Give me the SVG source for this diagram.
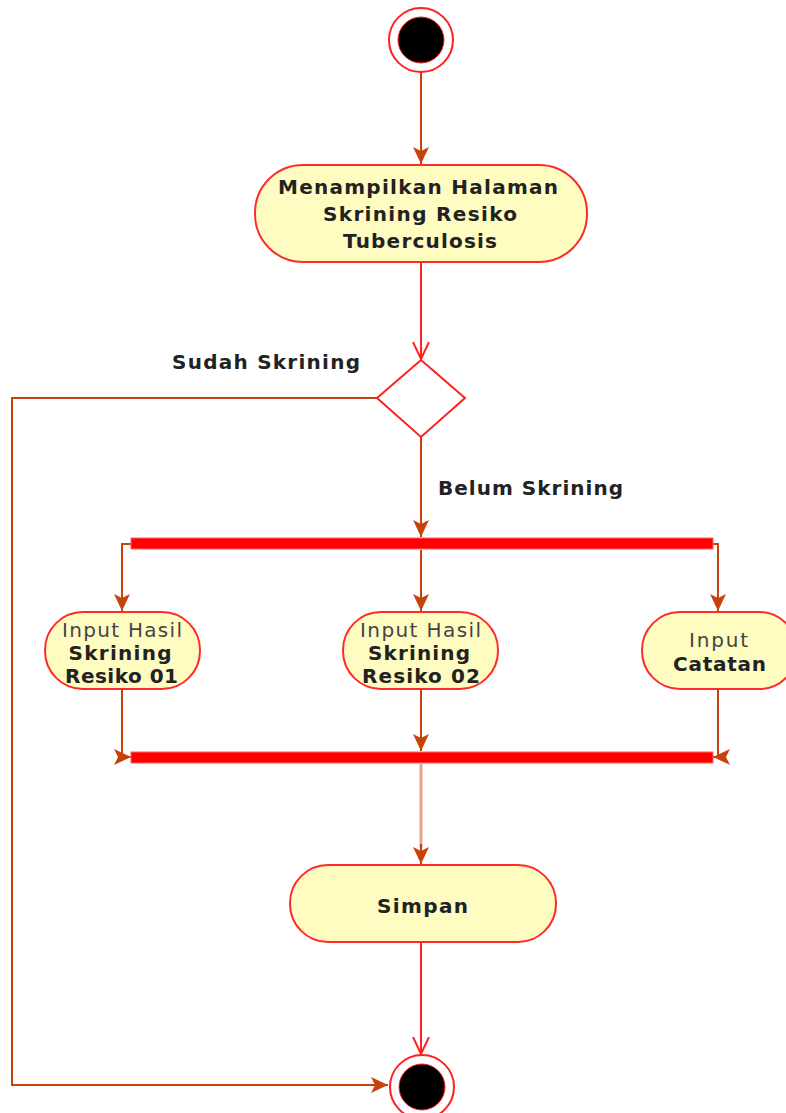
<svg xmlns="http://www.w3.org/2000/svg" width="786" height="1113" viewBox="0 0 786 1113">
  <style>
    .act { fill: #fffcc2; stroke: #ff2a2a; stroke-width: 2; }
    .bar { fill: #ff0000; stroke: #ff6060; stroke-width: 1; }
    .flow { fill: none; stroke: #c8420c; stroke-width: 2; }
    .flow-soft { fill: none; stroke: #e8a48a; stroke-width: 3; }
    .flow-red { fill: none; stroke: #ff2020; stroke-width: 2; }
    .t { font-family: "DejaVu Sans", Verdana, sans-serif; font-size: 20px; text-anchor: middle; }
    .b { font-weight: bold; fill: #222222; }
    .n { font-weight: normal; fill: #444444; }
  </style>
  <defs>
    <marker id="solid" viewBox="0 0 18 18" refX="17" refY="9" markerWidth="18" markerHeight="18" markerUnits="userSpaceOnUse" orient="auto">
      <path d="M0,1 L17,9 L0,17 L4,9 Z" fill="#c8420c"/>
    </marker>
    <marker id="open" viewBox="0 0 18 18" refX="17" refY="9" markerWidth="18" markerHeight="18" markerUnits="userSpaceOnUse" orient="auto">
      <path d="M0,1 L17,9 L0,17" fill="none" stroke="#ff2020" stroke-width="2"/>
    </marker>
  </defs>

  <g id="connectors">
    <path class="flow" d="M421,72 V164" marker-end="url(#solid)"/>
    <path class="flow-red" d="M421,263 V359" marker-end="url(#open)"/>
    <path class="flow" d="M377,398 H12 V1085 H388" marker-end="url(#solid)"/>
    <path class="flow" d="M421,437 V537" marker-end="url(#solid)"/>
    <path class="flow" d="M131,544 H122 V611" marker-end="url(#solid)"/>
    <path class="flow" d="M421,550 V611" marker-end="url(#solid)"/>
    <path class="flow" d="M713,544 H718 V611" marker-end="url(#solid)"/>
    <path class="flow" d="M122,690 V757 H131" marker-end="url(#solid)"/>
    <path class="flow" d="M421,690 V751" marker-end="url(#solid)"/>
    <path class="flow" d="M718,690 V757 H713" marker-end="url(#solid)"/>
    <path class="flow-soft" d="M421,764 V848"/>
    <path class="flow" d="M421,844 V864" marker-end="url(#solid)"/>
    <path class="flow-red" d="M421,943 V1054" marker-end="url(#open)"/>
    <text class="t b" x="266" y="369" textLength="188" lengthAdjust="spacing">Sudah Skrining</text>
    <text class="t b" x="530.5" y="495" textLength="185" lengthAdjust="spacing">Belum Skrining</text>
  </g>

  <g id="start">
    <circle cx="421" cy="40" r="32" fill="#ffffff" stroke="#ff2020" stroke-width="2"/>
    <circle cx="421" cy="40" r="23" fill="#000000" stroke="#ff2020" stroke-width="1"/>
  </g>

  <g id="show-page">
    <rect class="act" x="255" y="165" width="332" height="97" rx="48" ry="48"/>
    <text class="t b" x="418" y="194" textLength="280" lengthAdjust="spacing">Menampilkan Halaman</text>
    <text class="t b" x="420" y="221" textLength="194" lengthAdjust="spacing">Skrining Resiko</text>
    <text class="t b" x="420" y="248" textLength="154" lengthAdjust="spacing">Tuberculosis</text>
  </g>

  <g id="decision">
    <polygon points="421,360 465,398 421,437 377,398" fill="#ffffff" stroke="#ff2020" stroke-width="2"/>
  </g>

  <g id="fork">
    <rect class="bar" x="131" y="538" width="582" height="11"/>
  </g>

  <g id="input-risk-01">
    <rect class="act" x="45" y="612" width="155" height="77" rx="38" ry="38"/>
    <text class="t n" x="122" y="637" textLength="120" lengthAdjust="spacing">Input Hasil</text>
    <text class="t b" x="120" y="660" textLength="103" lengthAdjust="spacing">Skrining</text>
    <text class="t b" x="121.5" y="683" textLength="113" lengthAdjust="spacing">Resiko 01</text>
  </g>

  <g id="input-risk-02">
    <rect class="act" x="343" y="612" width="155" height="77" rx="38" ry="38"/>
    <text class="t n" x="420.5" y="637" textLength="121" lengthAdjust="spacing">Input Hasil</text>
    <text class="t b" x="419" y="660" textLength="102" lengthAdjust="spacing">Skrining</text>
    <text class="t b" x="421" y="683" textLength="118" lengthAdjust="spacing">Resiko 02</text>
  </g>

  <g id="input-note">
    <rect class="act" x="642" y="612" width="155" height="77" rx="38" ry="38"/>
    <text class="t n" x="718.5" y="647" textLength="59" lengthAdjust="spacing">Input</text>
    <text class="t b" x="719.5" y="671" textLength="93" lengthAdjust="spacing">Catatan</text>
  </g>

  <g id="join">
    <rect class="bar" x="131" y="752" width="582" height="11"/>
  </g>

  <g id="save">
    <rect class="act" x="290" y="865" width="266" height="77" rx="38" ry="38"/>
    <text class="t b" x="422.5" y="913" textLength="91" lengthAdjust="spacing">Simpan</text>
  </g>

  <g id="end">
    <circle cx="422" cy="1087" r="32" fill="#ffffff" stroke="#ff2020" stroke-width="2"/>
    <circle cx="422" cy="1087" r="23" fill="#000000" stroke="#ff2020" stroke-width="1"/>
  </g>
</svg>
